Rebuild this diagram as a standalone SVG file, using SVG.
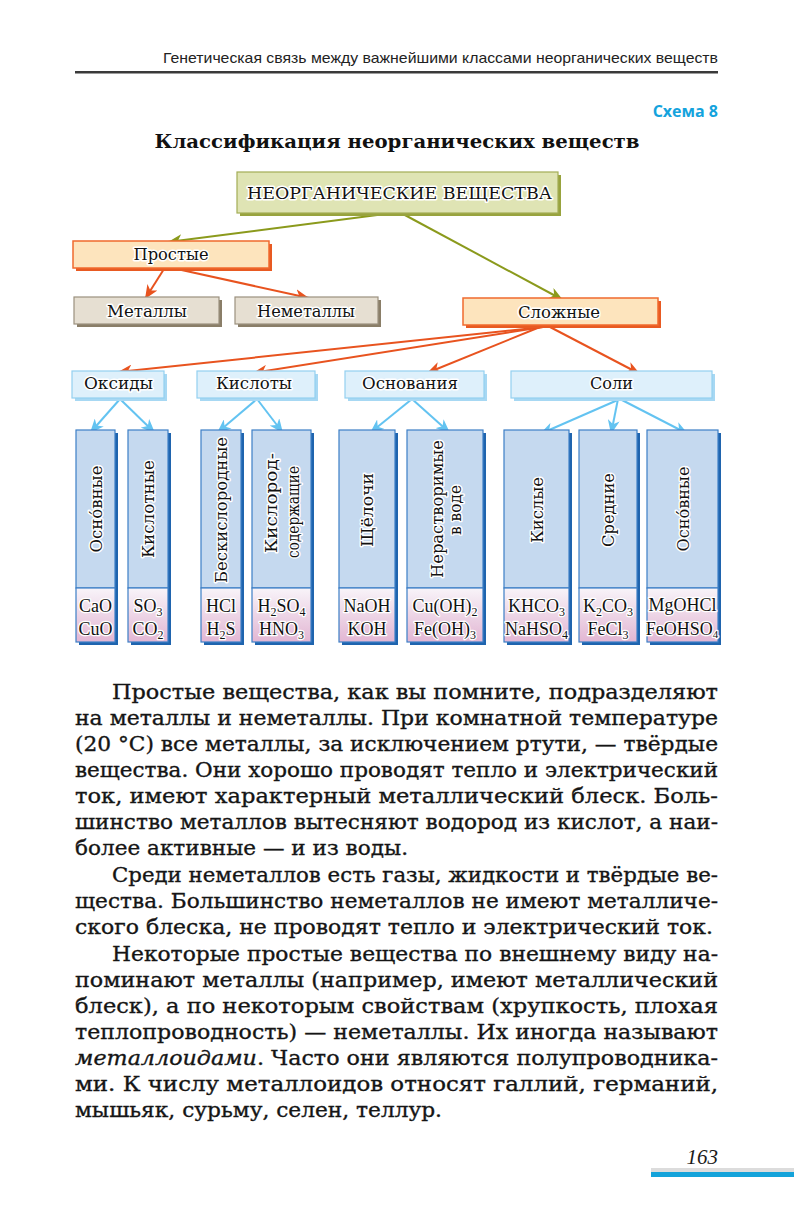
<svg xmlns="http://www.w3.org/2000/svg" width="794" height="1220" viewBox="0 0 794 1220">
<style>
.hdr{font-family:"Liberation Sans","Open Sans",sans-serif;font-size:15px;fill:#222}
.sch{font-family:"Open Sans","Liberation Sans",sans-serif;font-size:16px;font-weight:bold;fill:#14a3dd}
.ttl{font-family:"DejaVu Serif","Liberation Serif",serif;font-size:19px;font-weight:bold;fill:#111}
.lbl{font-family:"DejaVu Serif","Liberation Serif",serif;font-size:16px;fill:#111;stroke:#fff;stroke-width:3;stroke-linejoin:round;paint-order:stroke;text-anchor:middle}
.big{font-size:17px}
.col{font-family:"DejaVu Serif","Liberation Serif",serif;font-size:17px;fill:#111;stroke:#fff;stroke-width:3;stroke-linejoin:round;paint-order:stroke;text-anchor:middle;dominant-baseline:central}
.frm{font-family:"Liberation Serif","Times New Roman",serif;font-size:18px;fill:#111;stroke:#fff;stroke-width:2.5;stroke-linejoin:round;paint-order:stroke;text-anchor:middle}
.sub{font-size:12px}
.body{font-family:"DejaVu Serif","Liberation Serif",serif;font-size:21px;fill:#151515;stroke:#151515;stroke-width:0.35}
.g{stroke:#8b9a1c;stroke-width:2;fill:none}
.o{stroke:#e8531f;stroke-width:2;fill:none}
.b{stroke:#63c3f1;stroke-width:2;fill:none}
.topf{fill:#dfe4b4;stroke:#a3ad55;stroke-width:1.2}
.tops{fill:#98a33e}
.orf{fill:#fde4bd;stroke:#f06a2e;stroke-width:1.5}
.ors{fill:#e85a22}
.gyf{fill:#e6dfd2;stroke:#9b917f;stroke-width:1.2}
.gys{fill:#8a7e68}
.blf{fill:#def0fb;stroke:#93d0f0;stroke-width:1.2}
.bls{fill:#a7d8f3}
.clf{fill:#c5d9ef;stroke:#3d7fc6;stroke-width:1.2}
.cls{fill:#1f64ae}
.clb{fill:url(#pink);stroke:#3d7fc6;stroke-width:1.2}
</style>
<defs>
<linearGradient id="pink" x1="0" y1="0" x2="0" y2="1">
<stop offset="0" stop-color="#f8f4f9"/>
<stop offset="1" stop-color="#e2b6d3"/>
</linearGradient>
<marker id="mg" markerUnits="userSpaceOnUse" markerWidth="15" markerHeight="12" refX="14" refY="6" orient="auto" viewBox="0 0 15 12">
<path d="M0,0 L14,6 L0,12 L4,6 Z" fill="#8b9a1c"/>
</marker>
<marker id="mo" markerUnits="userSpaceOnUse" markerWidth="15" markerHeight="12" refX="14" refY="6" orient="auto" viewBox="0 0 15 12">
<path d="M0,0 L14,6 L0,12 L4,6 Z" fill="#e8531f"/>
</marker>
<marker id="mb" markerUnits="userSpaceOnUse" markerWidth="15" markerHeight="12" refX="14" refY="6" orient="auto" viewBox="0 0 15 12">
<path d="M0,0 L14,6 L0,12 L4,6 Z" fill="#63c3f1"/>
</marker>
</defs>
<rect width="794" height="1220" fill="#fff"/>

<g id="header">
<text class="hdr" x="718" y="63" text-anchor="end" textLength="555" lengthAdjust="spacingAndGlyphs">Генетическая связь между важнейшими классами неорганических веществ</text>
<rect x="75" y="71" width="643" height="2.5" fill="#3a3a3a"/>
<text class="sch" x="718" y="117" text-anchor="end">Схема 8</text>
<text class="ttl" x="397" y="148" text-anchor="middle" textLength="485" lengthAdjust="spacingAndGlyphs">Классификация неорганических веществ</text>
</g>

<g id="connectors">
<line class="g" x1="385" y1="214" x2="168" y2="242" marker-end="url(#mg)"/>
<line class="g" x1="403" y1="214" x2="563" y2="300" marker-end="url(#mg)"/>
<line class="o" x1="164" y1="269" x2="145" y2="299" marker-end="url(#mo)"/>
<line class="o" x1="177" y1="269" x2="309" y2="298" marker-end="url(#mo)"/>
<line class="o" x1="543" y1="327" x2="118" y2="372" marker-end="url(#mo)"/>
<line class="o" x1="543" y1="327" x2="253" y2="373" marker-end="url(#mo)"/>
<line class="o" x1="540" y1="327" x2="427" y2="373" marker-end="url(#mo)"/>
<line class="o" x1="550" y1="327" x2="640" y2="374" marker-end="url(#mo)"/>
<line class="b" x1="120" y1="399" x2="90" y2="433" marker-end="url(#mb)"/>
<line class="b" x1="120" y1="399" x2="155" y2="433" marker-end="url(#mb)"/>
<line class="b" x1="257" y1="399" x2="217" y2="433" marker-end="url(#mb)"/>
<line class="b" x1="257" y1="399" x2="283" y2="433" marker-end="url(#mb)"/>
<line class="b" x1="412" y1="399" x2="370" y2="433" marker-end="url(#mb)"/>
<line class="b" x1="412" y1="399" x2="450" y2="433" marker-end="url(#mb)"/>
<line class="b" x1="620" y1="399" x2="540" y2="434" marker-end="url(#mb)"/>
<line class="b" x1="618" y1="399" x2="611" y2="434" marker-end="url(#mb)"/>
<line class="b" x1="620" y1="399" x2="688" y2="434" marker-end="url(#mb)"/>
</g>

<g id="n-root">
<rect class="tops" x="240" y="175" width="321" height="41"/>
<rect class="topf" x="237" y="172" width="321" height="41"/>
<text class="lbl big" x="399.5" y="199" textLength="305" lengthAdjust="spacingAndGlyphs">НЕОРГАНИЧЕСКИЕ ВЕЩЕСТВА</text>
</g>
<g id="n-prostye">
<rect class="ors" x="76" y="244" width="196" height="27"/>
<rect class="orf" x="73" y="241" width="196" height="27"/>
<text class="lbl" x="171" y="260" textLength="75" lengthAdjust="spacingAndGlyphs">Простые</text>
</g>
<g id="n-metally">
<rect class="gys" x="77" y="300" width="145" height="27"/>
<rect class="gyf" x="74" y="297" width="145" height="27"/>
<text class="lbl" x="147" y="317" textLength="80" lengthAdjust="spacingAndGlyphs">Металлы</text>
</g>
<g id="n-nemetally">
<rect class="gys" x="238" y="300" width="143" height="27"/>
<rect class="gyf" x="235" y="297" width="143" height="27"/>
<text class="lbl" x="306" y="317" textLength="98" lengthAdjust="spacingAndGlyphs">Неметаллы</text>
</g>
<g id="n-slozhnye">
<rect class="ors" x="466" y="301" width="195" height="27"/>
<rect class="orf" x="463" y="298" width="195" height="27"/>
<text class="lbl" x="559" y="318" textLength="82" lengthAdjust="spacingAndGlyphs">Сложные</text>
</g>

<g id="n-oksidy">
<rect class="bls" x="75" y="374" width="92" height="27"/>
<rect class="blf" x="72" y="371" width="92" height="27"/>
<text class="lbl" x="118.5" y="389" textLength="69" lengthAdjust="spacingAndGlyphs">Оксиды</text>
</g>
<g id="n-kisloty">
<rect class="bls" x="200" y="374" width="118" height="27"/>
<rect class="blf" x="197" y="371" width="118" height="27"/>
<text class="lbl" x="254" y="389" textLength="76" lengthAdjust="spacingAndGlyphs">Кислоты</text>
</g>
<g id="n-osnovaniya">
<rect class="bls" x="348" y="374" width="139" height="27"/>
<rect class="blf" x="345" y="371" width="139" height="27"/>
<text class="lbl" x="410" y="389" textLength="96" lengthAdjust="spacingAndGlyphs">Основания</text>
</g>
<g id="n-soli">
<rect class="bls" x="514" y="374" width="201" height="27"/>
<rect class="blf" x="511" y="371" width="201" height="27"/>
<text class="lbl" x="611.5" y="389" textLength="43" lengthAdjust="spacingAndGlyphs">Соли</text>
</g>

<g id="c-osnovnye-oksidy">
<rect class="cls" x="79" y="433" width="39" height="212"/>
<rect class="clf" x="76" y="430" width="39" height="158"/>
<rect class="clb" x="76" y="588" width="39" height="54"/>
<text class="col" transform="translate(95.5,509) rotate(-90)" textLength="87" lengthAdjust="spacingAndGlyphs">Осно́вные</text>
<text class="frm" x="95.5" y="612">CaO</text>
<text class="frm" x="95.5" y="635">CuO</text>
</g>
<g id="c-kislotnye">
<rect class="cls" x="131" y="433" width="40" height="212"/>
<rect class="clf" x="128" y="430" width="40" height="158"/>
<rect class="clb" x="128" y="588" width="40" height="54"/>
<text class="col" transform="translate(148,509) rotate(-90)" textLength="98" lengthAdjust="spacingAndGlyphs">Кислотные</text>
<text class="frm" x="148" y="612">SO<tspan class="sub" dy="4">3</tspan></text>
<text class="frm" x="148" y="635">CO<tspan class="sub" dy="4">2</tspan></text>
</g>
<g id="c-beskislorodnye">
<rect class="cls" x="204" y="433" width="40" height="212"/>
<rect class="clf" x="201" y="430" width="40" height="158"/>
<rect class="clb" x="201" y="588" width="40" height="54"/>
<text class="col" transform="translate(221,510) rotate(-90)" textLength="146" lengthAdjust="spacingAndGlyphs">Бескислородные</text>
<text class="frm" x="221" y="612">HCl</text>
<text class="frm" x="221" y="635">H<tspan class="sub" dy="4">2</tspan><tspan dy="-4">S</tspan></text>
</g>
<g id="c-kislorodsoderzh">
<rect class="cls" x="255" y="433" width="59" height="212"/>
<rect class="clf" x="252" y="430" width="59" height="158"/>
<rect class="clb" x="252" y="588" width="59" height="54"/>
<text class="col" transform="translate(270.5,503) rotate(-90)" textLength="100" lengthAdjust="spacingAndGlyphs">Кислород-</text>
<text class="col" transform="translate(292.5,512) rotate(-90)" textLength="92" lengthAdjust="spacingAndGlyphs">содержащие</text>
<text class="frm" x="281.5" y="612">H<tspan class="sub" dy="4">2</tspan><tspan dy="-4">SO</tspan><tspan class="sub" dy="4">4</tspan></text>
<text class="frm" x="281.5" y="635">HNO<tspan class="sub" dy="4">3</tspan></text>
</g>
<g id="c-shchelochi">
<rect class="cls" x="342" y="433" width="56" height="212"/>
<rect class="clf" x="339" y="430" width="56" height="158"/>
<rect class="clb" x="339" y="588" width="56" height="54"/>
<text class="col" transform="translate(367,510) rotate(-90)" textLength="74" lengthAdjust="spacingAndGlyphs">Щёлочи</text>
<text class="frm" x="367" y="612">NaOH</text>
<text class="frm" x="367" y="635">KOH</text>
</g>
<g id="c-nerastvorimye">
<rect class="cls" x="410" y="433" width="76" height="212"/>
<rect class="clf" x="407" y="430" width="76" height="158"/>
<rect class="clb" x="407" y="588" width="76" height="54"/>
<text class="col" transform="translate(436.5,509) rotate(-90)" textLength="138" lengthAdjust="spacingAndGlyphs">Нерастворимые</text>
<text class="col" transform="translate(455,510) rotate(-90)" textLength="50" lengthAdjust="spacingAndGlyphs">в воде</text>
<text class="frm" x="445" y="612">Cu(OH)<tspan class="sub" dy="4">2</tspan></text>
<text class="frm" x="445" y="635">Fe(OH)<tspan class="sub" dy="4">3</tspan></text>
</g>
<g id="c-kislye">
<rect class="cls" x="507" y="433" width="65" height="212"/>
<rect class="clf" x="504" y="430" width="65" height="158"/>
<rect class="clb" x="504" y="588" width="65" height="54"/>
<text class="col" transform="translate(536.5,510) rotate(-90)" textLength="66" lengthAdjust="spacingAndGlyphs">Кислые</text>
<text class="frm" x="536.5" y="612">KHCO<tspan class="sub" dy="4">3</tspan></text>
<text class="frm" x="536.5" y="635" font-size="17">NaHSO<tspan class="sub" dy="4">4</tspan></text>
</g>
<g id="c-srednie">
<rect class="cls" x="582" y="433" width="58" height="212"/>
<rect class="clf" x="579" y="430" width="58" height="158"/>
<rect class="clb" x="579" y="588" width="58" height="54"/>
<text class="col" transform="translate(608,510) rotate(-90)" textLength="74" lengthAdjust="spacingAndGlyphs">Средние</text>
<text class="frm" x="608" y="612">K<tspan class="sub" dy="4">2</tspan><tspan dy="-4">CO</tspan><tspan class="sub" dy="4">3</tspan></text>
<text class="frm" x="608" y="635">FeCl<tspan class="sub" dy="4">3</tspan></text>
</g>
<g id="c-osnovnye-soli">
<rect class="cls" x="650" y="433" width="71" height="212"/>
<rect class="clf" x="647" y="430" width="71" height="158"/>
<rect class="clb" x="647" y="588" width="71" height="54"/>
<text class="col" transform="translate(682.5,509) rotate(-90)" textLength="85" lengthAdjust="spacingAndGlyphs">Осно́вные</text>
<text class="frm" x="682.5" y="611" font-size="17.5">MgOHCl</text>
<text class="frm" x="682" y="635" font-size="16">FeOHSO<tspan font-size="11" dy="3">4</tspan></text>
</g>

<g id="body-text">
<text class="body" x="112" y="699" textLength="606" lengthAdjust="spacingAndGlyphs">Простые вещества, как вы помните, подразделяют</text>
<text class="body" x="75" y="725" textLength="643" lengthAdjust="spacingAndGlyphs">на металлы и неметаллы. При комнатной температуре</text>
<text class="body" x="75" y="751" textLength="643" lengthAdjust="spacingAndGlyphs">(20 °C) все металлы, за исключением ртути, — твёрдые</text>
<text class="body" x="75" y="777" textLength="643" lengthAdjust="spacingAndGlyphs">вещества. Они хорошо проводят тепло и электрический</text>
<text class="body" x="75" y="803" textLength="643" lengthAdjust="spacingAndGlyphs">ток, имеют характерный металлический блеск. Боль-</text>
<text class="body" x="75" y="829" textLength="643" lengthAdjust="spacingAndGlyphs">шинство металлов вытесняют водород из кислот, а наи-</text>
<text class="body" x="75" y="855" textLength="333" lengthAdjust="spacingAndGlyphs">более активные — и из воды.</text>
<text class="body" x="112" y="882" textLength="606" lengthAdjust="spacingAndGlyphs">Среди неметаллов есть газы, жидкости и твёрдые ве-</text>
<text class="body" x="75" y="908" textLength="643" lengthAdjust="spacingAndGlyphs">щества. Большинство неметаллов не имеют металличе-</text>
<text class="body" x="75" y="934" textLength="638" lengthAdjust="spacingAndGlyphs">ского блеска, не проводят тепло и электрический ток.</text>
<text class="body" x="112" y="961" textLength="606" lengthAdjust="spacingAndGlyphs">Некоторые простые вещества по внешнему виду на-</text>
<text class="body" x="75" y="987" textLength="643" lengthAdjust="spacingAndGlyphs">поминают металлы (например, имеют металлический</text>
<text class="body" x="75" y="1013" textLength="643" lengthAdjust="spacingAndGlyphs">блеск), а по некоторым свойствам (хрупкость, плохая</text>
<text class="body" x="75" y="1039" textLength="643" lengthAdjust="spacingAndGlyphs">теплопроводность) — неметаллы. Их иногда называют</text>
<text class="body" x="75" y="1065" textLength="643" lengthAdjust="spacingAndGlyphs"><tspan font-style="italic">металлоидами</tspan>. Часто они являются полупроводника-</text>
<text class="body" x="75" y="1091" textLength="643" lengthAdjust="spacingAndGlyphs">ми. К числу металлоидов относят галлий, германий,</text>
<text class="body" x="75" y="1117" textLength="367" lengthAdjust="spacingAndGlyphs">мышьяк, сурьму, селен, теллур.</text>
</g>

<g id="footer">
<text x="718" y="1164" text-anchor="end" font-family="Liberation Serif, serif" font-style="italic" font-size="21" fill="#1a1a1a">163</text>
<rect x="651" y="1168" width="143" height="4" fill="#dcdcdc"/>
<rect x="651" y="1172" width="143" height="5" fill="#14a3da"/>
</g>
</svg>
